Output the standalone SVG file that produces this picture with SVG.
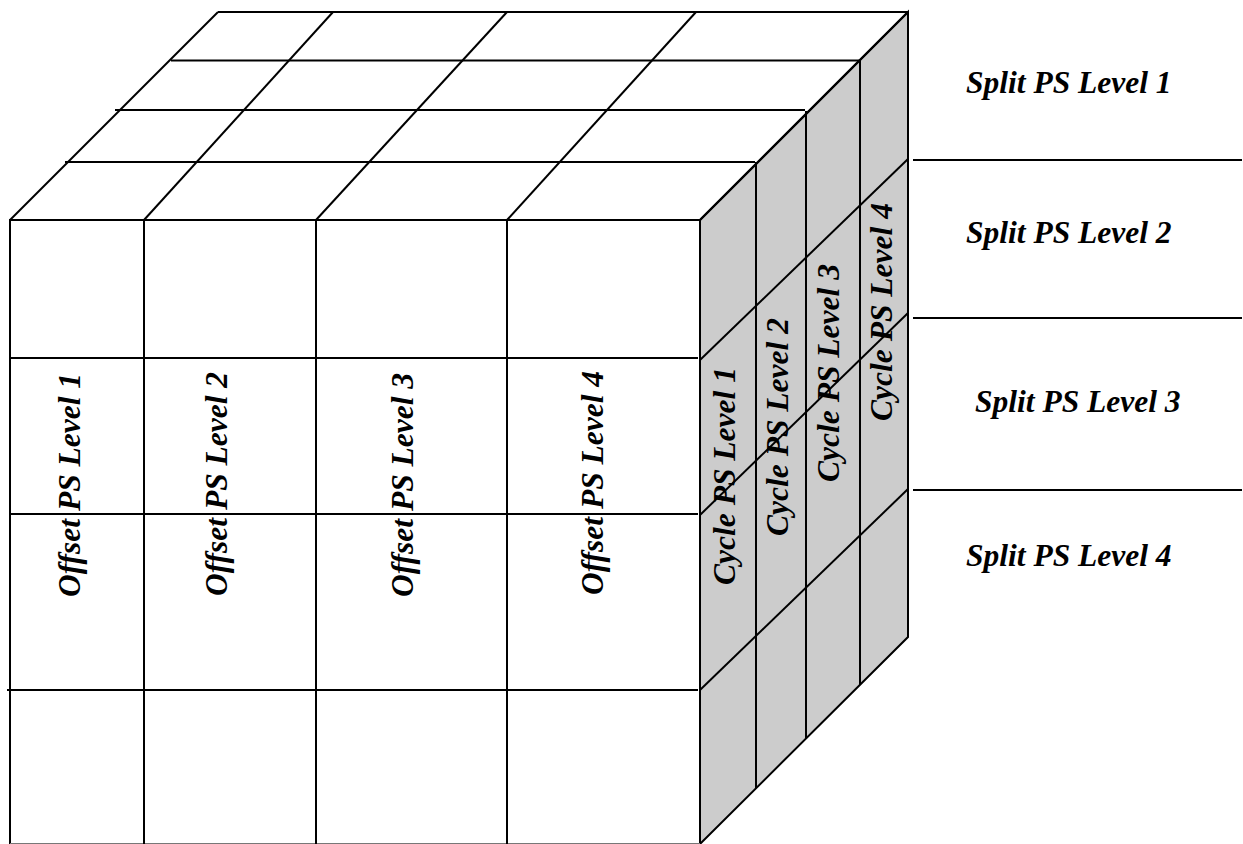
<svg xmlns="http://www.w3.org/2000/svg" width="1243" height="844" viewBox="0 0 1243 844">
  <style>
    .ln { stroke: #000; stroke-width: 2; fill: none; stroke-linecap: butt; }
    .side { fill: #cccccc; stroke: #000; stroke-width: 2; }
    .lbl { font-family: "Liberation Serif", "Times New Roman", serif; font-size: 31.5px; font-weight: bold; font-style: italic; fill: #000; }
  </style>
  <rect x="0" y="0" width="1243" height="844" fill="#fff"/>

  <g id="right-face">
    <polygon class="side" points="700,220 908,12 908,637 700,844"/>
    <line class="ln" x1="756" y1="162" x2="756" y2="788"/>
    <line class="ln" x1="806" y1="111" x2="806" y2="738"/>
    <line class="ln" x1="860" y1="60" x2="860" y2="685"/>
    <line class="ln" x1="700" y1="360" x2="908" y2="159"/>
    <line class="ln" x1="700" y1="515" x2="908" y2="313"/>
    <line class="ln" x1="700" y1="690" x2="908" y2="489"/>
  </g>

  <g id="top-face">
    <line class="ln" x1="218" y1="12" x2="908" y2="12"/>
    <line class="ln" x1="10" y1="220" x2="218" y2="12"/>
    <line class="ln" x1="700" y1="220" x2="908" y2="12"/>
    <line class="ln" x1="171" y1="60.5" x2="860" y2="60.5"/>
    <line class="ln" x1="115" y1="110" x2="805" y2="110"/>
    <line class="ln" x1="65" y1="162" x2="755" y2="162"/>
    <line class="ln" x1="144" y1="220" x2="333" y2="12"/>
    <line class="ln" x1="316" y1="220" x2="507" y2="12"/>
    <line class="ln" x1="507" y1="220" x2="696" y2="12"/>
  </g>

  <g id="front-face">
    <line class="ln" x1="10" y1="220" x2="700" y2="220"/>
    <line class="ln" x1="10" y1="219" x2="10" y2="844"/>
    <line class="ln" x1="700" y1="219" x2="700" y2="844"/>
    <line stroke="#777" stroke-width="1" x1="10" y1="843.5" x2="700" y2="843.5"/>
    <line class="ln" x1="144" y1="220" x2="144" y2="844"/>
    <line class="ln" x1="316" y1="220" x2="316" y2="844"/>
    <line class="ln" x1="507" y1="220" x2="507" y2="844"/>
    <line class="ln" x1="10" y1="358" x2="698" y2="358"/>
    <line class="ln" x1="10" y1="514" x2="698" y2="514"/>
    <line class="ln" x1="7" y1="690" x2="698" y2="690"/>
  </g>

  <g id="split-dividers">
    <line class="ln" x1="913" y1="160" x2="1242" y2="160"/>
    <line class="ln" x1="913" y1="318" x2="1242" y2="318"/>
    <line class="ln" x1="913" y1="490" x2="1242" y2="490"/>
  </g>

  <g id="offset-labels">
    <text id="offset1" class="lbl" text-anchor="middle" transform="translate(80,485) rotate(-90)">Offset PS Level 1</text>
    <text id="offset2" class="lbl" text-anchor="middle" transform="translate(227,484) rotate(-90)">Offset PS Level 2</text>
    <text id="offset3" class="lbl" text-anchor="middle" transform="translate(413,485) rotate(-90)">Offset PS Level 3</text>
    <text id="offset4" class="lbl" text-anchor="middle" transform="translate(603,483) rotate(-90)">Offset PS Level 4</text>
  </g>

  <g id="cycle-labels">
    <text id="cycle1" class="lbl" text-anchor="middle" transform="translate(735,476) rotate(-90)">Cycle PS Level 1</text>
    <text id="cycle2" class="lbl" text-anchor="middle" transform="translate(788,427) rotate(-90)">Cycle PS Level 2</text>
    <text id="cycle3" class="lbl" text-anchor="middle" transform="translate(839,373) rotate(-90)">Cycle PS Level 3</text>
    <text id="cycle4" class="lbl" text-anchor="middle" transform="translate(892,312) rotate(-90)">Cycle PS Level 4</text>
  </g>

  <g id="split-labels">
    <text id="split1" class="lbl" x="966" y="93">Split PS Level 1</text>
    <text id="split2" class="lbl" x="966" y="243">Split PS Level 2</text>
    <text id="split3" class="lbl" x="975" y="412">Split PS Level 3</text>
    <text id="split4" class="lbl" x="966" y="566">Split PS Level 4</text>
  </g>
</svg>
